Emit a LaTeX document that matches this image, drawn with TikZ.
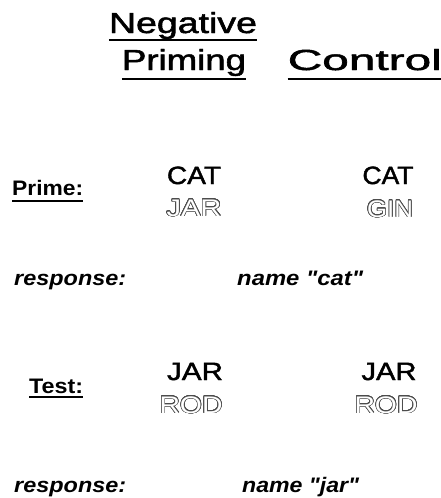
\documentclass[tikz,border=0pt]{standalone}
\usepackage{fontspec}
\setmainfont{Liberation Sans}
\newfontfamily\heavy[FakeBold=1.6]{Liberation Sans}
\usepackage{graphicx}
\usepackage{contour}
\contourlength{0.55pt}
\contournumber{24}

% stretch a text horizontally to a given width, keeping its height
\newcommand{\wfit}[2]{\resizebox{#1}{\height}{#2}}
% hollow (outlined) word used for the distractors
\newcommand{\hollow}[1]{\contour{outlinegray}{\color{white}#1}}
% straight double quote, set as a glyph so that no text mapping curls it
\newcommand{\dq}{\XeTeXglyph\XeTeXcharglyph"22\relax}

\definecolor{outlinegray}{gray}{0.3}

\tikzset{
  head/.style={inner sep=0pt, anchor=base, font=\heavy\fontsize{29}{29}\selectfont},
  word/.style={inner sep=0pt, anchor=base, font=\heavy\fontsize{25}{25}\selectfont},
  ghost/.style={inner sep=0pt, anchor=base, font=\fontsize{24}{24}\selectfont},
  rowlabel/.style={inner sep=0pt, anchor=base west, font=\bfseries\fontsize{21}{21}\selectfont},
  resp/.style={inner sep=0pt, anchor=base west, font=\bfseries\itshape\fontsize{21}{21}\selectfont},
  uline/.style={line width=1.4pt, line cap=butt}
}

\begin{document}
\begin{tikzpicture}[x=1pt,y=-1pt]
  \useasboundingbox[fill=white] (0,0) rectangle (441,498);

  % column headings
  \node[head] (neg) at (183,33) {\wfit{148pt}{Negative}};
  \node[head] (pri) at (184,70) {\wfit{124pt}{Priming}};
  \node[head, anchor=base east] (con) at (442,70) {\wfit{154pt}{Control}};
  \draw[uline] ([yshift=-7pt]neg.base west) -- ([yshift=-7pt]neg.base east);
  \draw[uline] ([yshift=-9pt]pri.base west) -- ([yshift=-9pt]pri.base east);
  \draw[uline] ([yshift=-9pt]con.base west) -- ([yshift=-9pt]con.base east);

  % prime display
  \node[rowlabel] (prime) at (12,195) {\wfit{71pt}{Prime:}};
  \draw[uline] ([yshift=-6pt]prime.base west) -- ([yshift=-6pt]prime.base east);
  \node[word]  (cat1) at (194,184) {\wfit{54pt}{CAT}};
  \node[ghost] (jar1) at (194,216) {\wfit{55pt}{\hollow{JAR}}};
  \node[word]  (cat2) at (388,184) {\wfit{51pt}{CAT}};
  \node[ghost] (gin2) at (390,217) {\wfit{46pt}{\hollow{GIN}}};

  % first response
  \node[resp] (resp1) at (14,285) {\wfit{112pt}{response:}};
  \node[resp] (name1) at (237,285) {\wfit{126pt}{name \dq cat\dq}};

  % test display
  \node[rowlabel] (test) at (29,393) {\wfit{54pt}{Test:}};
  \draw[uline] ([yshift=-4pt]test.base west) -- ([yshift=-4pt]test.base east);
  \node[word]  (jar3) at (195,380) {\wfit{56pt}{JAR}};
  \node[ghost] (rod3) at (191,413) {\wfit{63pt}{\hollow{ROD}}};
  \node[word]  (jar4) at (389,380) {\wfit{55pt}{JAR}};
  \node[ghost] (rod4) at (386,413) {\wfit{63pt}{\hollow{ROD}}};

  % second response
  \node[resp] (resp2) at (14,492) {\wfit{112pt}{response:}};
  \node[resp] (name2) at (242,492) {\wfit{117pt}{name \dq jar\dq}};
\end{tikzpicture}
\end{document}
